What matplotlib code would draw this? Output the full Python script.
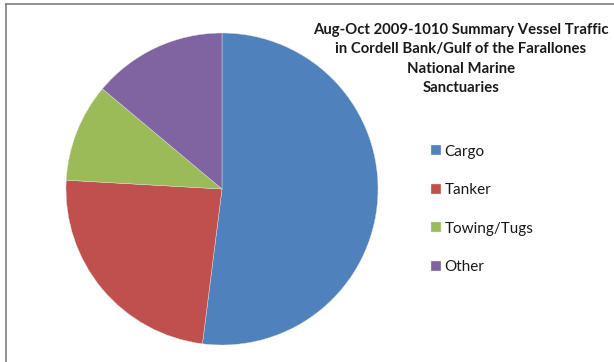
import matplotlib.pyplot as plt
from matplotlib.lines import Line2D

# vessel traffic shares (percent)
categories = ["Cargo", "Tanker", "Towing/Tugs", "Other"]
shares = [52.0, 23.9, 10.2, 13.9]
colors = ["#4F81BD", "#C0504D", "#9BBB59", "#8064A2"]
title = ("Aug-Oct 2009-1010 Summary Vessel Traffic\n"
         "in Cordell Bank/Gulf of the Farallones\n"
         "National Marine\nSanctuaries")

W, H = 614, 362
fig = plt.figure(figsize=(W / 100, H / 100), dpi=100)
fig.patch.set_facecolor("white")

# pie axes: centre (222,189), radius 156 px
cx, cy, r = 222, 189, 156
ax = fig.add_axes([(cx - r) / W, (H - cy - r) / H, 2 * r / W, 2 * r / H])
wedges, _ = ax.pie(shares, colors=colors, startangle=90, counterclock=False,
                   radius=1, wedgeprops=dict(linewidth=0.3, edgecolor="#e0e0e0"))
ax.set_xlim(-1, 1)
ax.set_ylim(-1, 1)
ax.set_aspect("auto")
ax.axis("off")

fig.text(461 / W, 1 - 23 / H, title, ha="center", va="top", fontsize=10.7,
         fontweight="bold", family="Lato", linespacing=1.5, color="#1a1a1a")

fig.legend(wedges, categories, loc="upper left",
           bbox_to_anchor=(423 / W, 1 - 137 / H), frameon=False,
           prop=dict(family="Lato", size=11), handlelength=0.65,
           handleheight=0.65, handletextpad=0.25, labelspacing=1.6,
           borderpad=0, labelcolor="#1a1a1a")

# border lines on the left and top edges
fig.add_artist(Line2D([6 / W, 6 / W], [0, 1 - 4 / H], color="#808080", lw=1.2))
fig.add_artist(Line2D([6 / W, 1], [1 - 4 / H, 1 - 4 / H], color="#808080", lw=1.2))

fig.savefig("out.png", dpi=100)
